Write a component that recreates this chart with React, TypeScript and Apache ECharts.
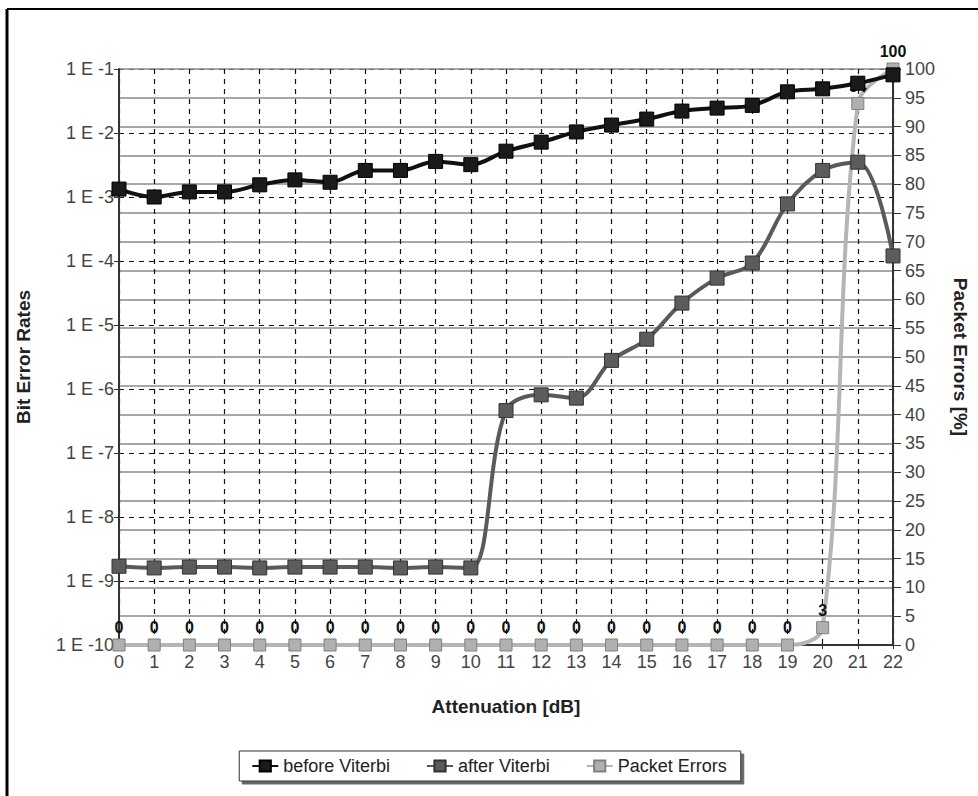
import React, { useEffect, useRef } from "react";
import * as echarts from "echarts";

const attenuation = [0, 1, 2, 3, 4, 5, 6, 7, 8, 9, 10, 11, 12, 13, 14, 15, 16, 17, 18, 19, 20, 21, 22];
const beforeViterbi = [1.33e-3, 1.0e-3, 1.2e-3, 1.2e-3, 1.55e-3, 1.85e-3, 1.7e-3, 2.6e-3, 2.6e-3, 3.6e-3, 3.2e-3, 5.2e-3, 7.2e-3, 1.04e-2, 1.33e-2, 1.65e-2, 2.2e-2, 2.45e-2, 2.7e-2, 4.4e-2, 4.9e-2, 6.0e-2, 8.1e-2];
const afterViterbi = [1.7e-9, 1.6e-9, 1.65e-9, 1.65e-9, 1.6e-9, 1.65e-9, 1.65e-9, 1.65e-9, 1.6e-9, 1.65e-9, 1.6e-9, 4.6e-7, 8.1e-7, 7.2e-7, 2.8e-6, 6.0e-6, 2.2e-5, 5.4e-5, 9.3e-5, 7.8e-4, 2.6e-3, 3.5e-3, 1.2e-4];
const packetErrors = [0, 0, 0, 0, 0, 0, 0, 0, 0, 0, 0, 0, 0, 0, 0, 0, 0, 0, 0, 0, 3, 94, 100];
const seriesNames = ["before Viterbi", "after Viterbi", "Packet Errors"];

const FONT = "Liberation Sans";

export default function App() {
  const ref = useRef<HTMLDivElement>(null);
  useEffect(() => {
    if (!ref.current) return;
    document.body.style.margin = "0";
    document.body.style.overflow = "hidden";
    const chart = echarts.init(ref.current, null, { renderer: "svg", width: 978, height: 796 });
    const pair = (arr: number[]) => attenuation.map((x, i) => [x, arr[i]]);
    chart.setOption({
      animation: false,
      backgroundColor: "#fff",
      textStyle: { fontFamily: FONT },
      grid: { left: 119, right: 80, top: 69, bottom: 151, containLabel: false },
      graphic: [
        { type: "line", shape: { x1: 7, y1: 9, x2: 978, y2: 9 }, style: { stroke: "#000", lineWidth: 2 } },
        { type: "line", shape: { x1: 7, y1: 9, x2: 7, y2: 796 }, style: { stroke: "#000", lineWidth: 3 } },
      ],
      legend: {
        data: seriesNames,
        left: "center",
        top: 751,
        itemGap: 36,
        itemWidth: 26,
        itemHeight: 14,
        padding: [6, 14, 6, 12],
        borderColor: "#333",
        borderWidth: 1,
        backgroundColor: "#fff",
        shadowColor: "rgba(0,0,0,0.6)",
        shadowOffsetX: 3,
        shadowOffsetY: 3,
        shadowBlur: 0,
        textStyle: { fontFamily: FONT, fontSize: 18, color: "#222" },
      },
      xAxis: {
        type: "value",
        min: 0,
        max: 22,
        interval: 1,
        name: "Attenuation [dB]",
        nameLocation: "middle",
        nameGap: 52,
        nameTextStyle: { fontFamily: FONT, fontSize: 19, fontWeight: "bold", color: "#222" },
        axisLine: { lineStyle: { color: "#333", width: 2 } },
        axisTick: { show: true, length: 4, lineStyle: { color: "#333" } },
        axisLabel: { fontFamily: FONT, fontSize: 18, color: "#444", margin: 8 },
        splitLine: { show: true, lineStyle: { color: "#111", type: [5, 5], width: 1.2 } },
      },
      yAxis: [
        {
          type: "log",
          logBase: 10,
          min: 1e-10,
          max: 1e-1,
          name: "Bit Error Rates",
          nameLocation: "middle",
          nameGap: 86,
          nameRotate: 90,
          nameTextStyle: { fontFamily: FONT, fontSize: 19, fontWeight: "bold", color: "#222" },
          axisLine: { show: true, lineStyle: { color: "#333", width: 2 } },
          axisTick: { show: true, length: 5, lineStyle: { color: "#333" } },
          axisLabel: {
            fontFamily: FONT,
            fontSize: 18,
            color: "#444",
            margin: 5,
            formatter: (v: number) => "1 E -" + Math.round(-Math.log10(v)),
          },
          splitLine: { show: true, lineStyle: { color: "#111", type: [5, 5], width: 1.2 } },
        },
        {
          type: "value",
          min: 0,
          max: 100,
          interval: 5,
          position: "right",
          name: "Packet Errors [%]",
          nameLocation: "middle",
          nameGap: 58,
          nameRotate: -90,
          nameTextStyle: { fontFamily: FONT, fontSize: 19, fontWeight: "bold", color: "#222" },
          axisLine: { show: true, lineStyle: { color: "#333", width: 2 } },
          axisTick: { show: true, length: 8, lineStyle: { color: "#333" } },
          axisLabel: { fontFamily: FONT, fontSize: 18, color: "#444", margin: 12 },
          splitLine: { show: true, lineStyle: { color: "#8a8a8a", type: "solid", width: 1.5 } },
        },
      ],
      series: [
        {
          name: seriesNames[2],
          type: "line",
          yAxisIndex: 1,
          data: pair(packetErrors),
          smooth: 0.35,
          symbol: "rect",
          symbolSize: 12,
          z: 2,
          lineStyle: { color: "#b5b5b5", width: 4 },
          itemStyle: { color: "#b0b0b0", borderColor: "#808080", borderWidth: 1 },
          label: {
            show: true,
            position: "top",
            distance: 3,
            fontFamily: FONT,
            fontSize: 16,
            fontWeight: "bold",
            color: "#111",
            formatter: (p: any) => String(p.value[1]),
          },
        },
        {
          name: seriesNames[1],
          type: "line",
          data: pair(afterViterbi),
          smooth: 0.35,
          symbol: "rect",
          symbolSize: 14,
          z: 3,
          lineStyle: { color: "#5a5a5a", width: 4 },
          itemStyle: { color: "#5c5c5c", borderColor: "#333", borderWidth: 1 },
        },
        {
          name: seriesNames[0],
          type: "line",
          data: pair(beforeViterbi),
          smooth: 0.35,
          symbol: "rect",
          symbolSize: 14,
          z: 4,
          lineStyle: { color: "#111", width: 4 },
          itemStyle: { color: "#1a1a1a", borderColor: "#000", borderWidth: 1 },
        },
      ],
    });
    return () => chart.dispose();
  }, []);
  return (
    <div
      ref={ref}
      style={{ position: "absolute", left: 0, top: 0, width: 978, height: 796 }}
    />
  );
}
